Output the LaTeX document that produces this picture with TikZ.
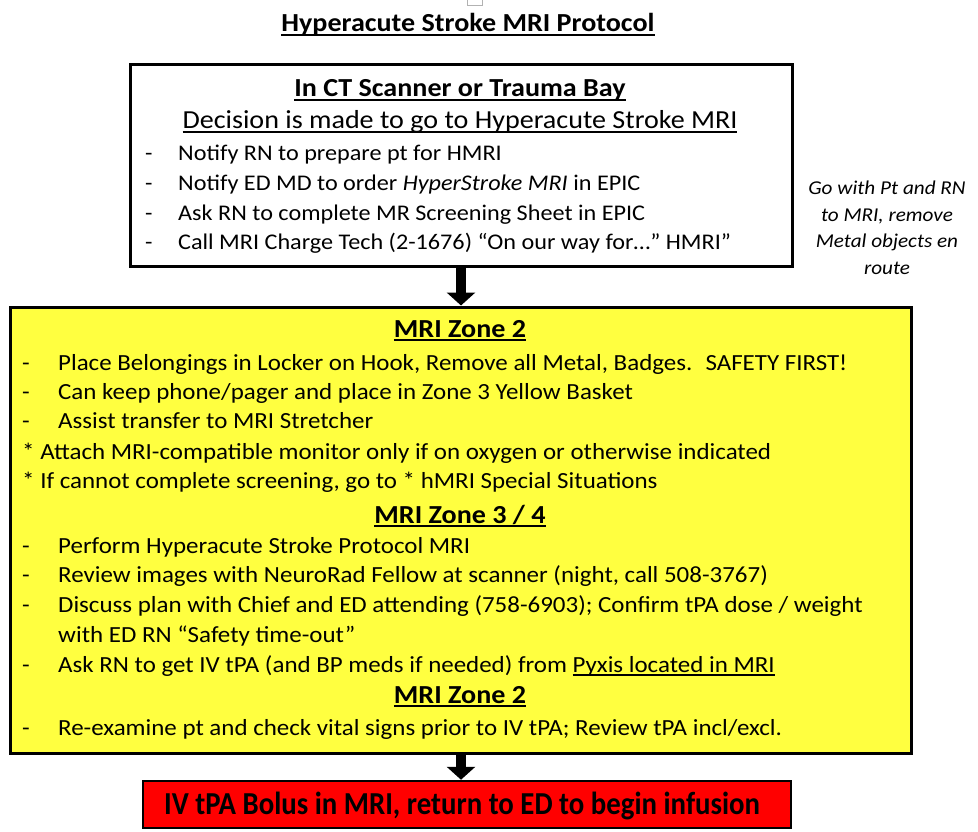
\documentclass[tikz,border=0pt]{standalone}
\usepackage{fontspec}
\setmainfont[FakeStretch=1.08]{Carlito}
\newfontfamily\bolusfont[FakeStretch=0.9]{Carlito}
\usetikzlibrary{arrows.meta,positioning}

\definecolor{zoneyellow}{RGB}{255,255,64}
\definecolor{bolusred}{RGB}{255,0,0}
\newcommand{\ctdash}{\makebox[33pt][l]{-}}
\newcommand{\zndash}{\makebox[36pt][l]{-}}
\newcommand{\ulx}[1]{\setbox0\hbox{#1}\rlap{\rule[-4pt]{\wd0}{1.6pt}}\box0}

\tikzset{
  stepbox/.style={draw=black, line width=3pt, inner sep=0pt},
  heading/.style={anchor=base, inner sep=0pt, font=\fontsize{26}{30}\selectfont\bfseries},
  ctitem/.style={anchor=base west, inner sep=0pt, font=\fontsize{22.4}{26}\selectfont},
  znitem/.style={anchor=base west, inner sep=0pt, font=\fontsize{23.1}{26}\selectfont},
  bigarrow/.style={line width=10pt, -{Triangle[width=28pt,length=13pt]}},
}

\begin{document}
\begin{tikzpicture}[x=1pt, y=-1pt]
  \useasboundingbox (0,0) rectangle (978,832);

  % small box at the top edge
  \draw[gray!60, line width=0.8pt] (467,-4) rectangle (482,5);

  % title
  \node[heading] (title) at (468,32) {\ulx{Hyperacute Stroke MRI Protocol}};

  % boxes
  \node[stepbox, minimum width=662pt, minimum height=201pt] (ct) at (461,165.5) {};
  \node[stepbox, fill=zoneyellow, minimum width=901pt, minimum height=446pt] (zone) at (460.5,530) {};
  \node[stepbox, fill=bolusred, line width=2.5pt, minimum width=648pt, minimum height=47pt] (bolus) at (467,804.5) {};

  % CT scanner / trauma bay
  \node[heading] (cthead) at (460,97) {\ulx{In CT Scanner or Trauma Bay}};
  \node[heading, font=\fontsize{26}{30}\selectfont] (ctdec) at (460,129) {\ulx{Decision is made to go to Hyperacute Stroke MRI}};
  \foreach \y/\txt [count=\i] in {
      161/{Notify RN to prepare pt for HMRI},
      190/{Notify ED MD to order \textit{HyperStroke MRI} in EPIC},
      220/{Ask RN to complete MR Screening Sheet in EPIC},
      249/{Call MRI Charge Tech (2-1676) “On our way for…” HMRI”}}
    \node[ctitem] (ct\i) at (145,\y) {\ctdash\txt};

  % side note
  \node[align=center, inner sep=0pt, font=\fontsize{19.6}{26.5}\selectfont\itshape] (note) at (887,228)
    {Go with Pt and RN\\to MRI, remove\\Metal objects en\\route};

  % MRI zones
  \node[heading] (zoneA) at (460,337) {\ulx{MRI Zone 2}};
  \foreach \y/\txt [count=\i] in {
      370/{\zndash Place Belongings in Locker on Hook, Remove all Metal, Badges.~ SAFETY FIRST!},
      399/{\zndash Can keep phone/pager and place in Zone 3 Yellow Basket},
      428/{\zndash Assist transfer to MRI Stretcher},
      459/{* Attach MRI-compatible monitor only if on oxygen or otherwise indicated},
      488/{* If cannot complete screening, go to * hMRI Special Situations}}
    \node[znitem] (za\i) at (22,\y) {\txt};

  \node[heading] (zoneB) at (460,523) {\ulx{MRI Zone 3 / 4}};
  \foreach \y/\txt [count=\i] in {
      553/{\zndash Perform Hyperacute Stroke Protocol MRI},
      582/{\zndash Review images with NeuroRad Fellow at scanner (night, call 508-3767)},
      612/{\zndash Discuss plan with Chief and ED attending (758-6903); Confirm tPA dose / weight},
      642/{\hspace*{36pt}with ED RN “Safety time-out”},
      672/{\zndash Ask RN to get IV tPA (and BP meds if needed) from \ulx{Pyxis located in MRI}}}
    \node[znitem] (zb\i) at (22,\y) {\txt};
  \node[heading] (zoneC) at (460,703) {\ulx{MRI Zone 2}};
  \node[znitem] (zc1) at (22,735) {\zndash Re-examine pt and check vital signs prior to IV tPA; Review tPA incl/excl.};

  % bolus
  \node[heading, font=\bolusfont\fontsize{32}{36}\selectfont\bfseries] (bolustxt) at (462,814) {IV tPA Bolus in MRI, return to ED to begin infusion};

  % arrows
  \draw[bigarrow] (ct.south) -- (ct.south |- zone.north);
  \draw[bigarrow] (ct.south |- zone.south) -- (ct.south |- bolus.north);
\end{tikzpicture}
\end{document}
